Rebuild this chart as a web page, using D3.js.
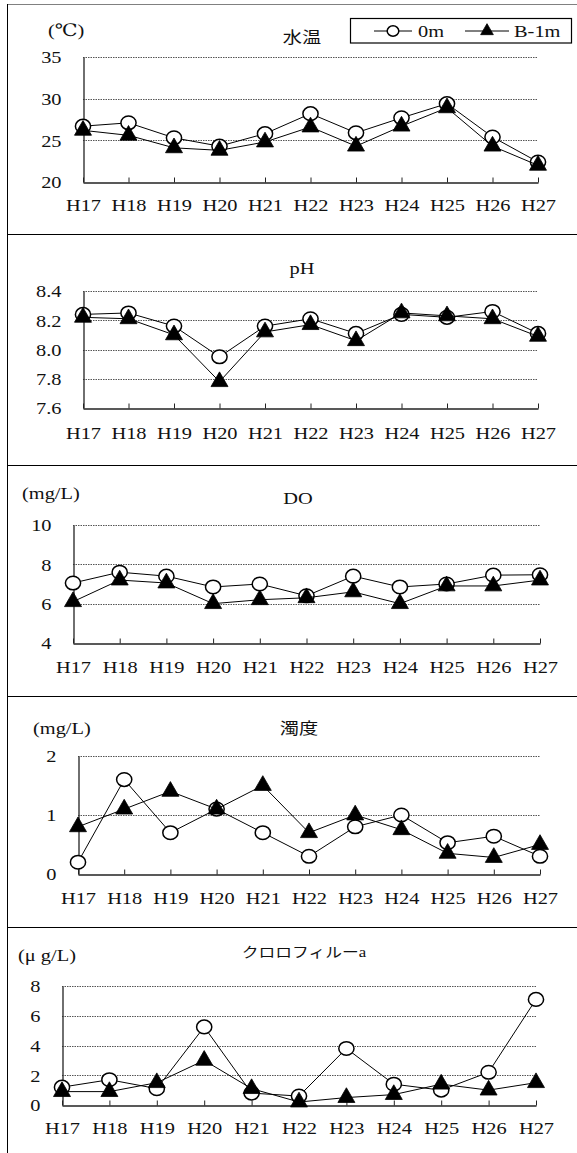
<!DOCTYPE html>
<html><head><meta charset="utf-8">
<script src="https://cdn.jsdelivr.net/npm/d3@7"></script>
<style>
html,body{margin:0;padding:0;background:#fff;}
svg{display:block;font-family:"Liberation Serif","Times New Roman","DejaVu Serif","Noto Sans CJK JP",serif;font-weight:normal;}
</style></head>
<body>
<svg id="chart" width="577" height="1153"></svg>
<script>
// ---- data ----
const years = ["H17","H18","H19","H20","H21","H22","H23","H24","H25","H26","H27"];
const seriesNames = ["0m","B-1m"];

const tempTicks = [20,25,30,35];
const temp0m  = [26.7,27.1,25.3,24.3,25.8,28.2,25.9,27.7,29.4,25.4,22.4];
const tempB1m = [26.2,25.6,24.1,23.8,24.8,26.6,24.3,26.7,28.9,24.3,22.0];

const phTicks = [7.6,7.8,8.0,8.2,8.4];
const ph0m  = [8.24,8.25,8.16,7.95,8.16,8.21,8.11,8.24,8.22,8.26,8.11];
const phB1m = [8.22,8.21,8.10,7.78,8.12,8.17,8.06,8.25,8.23,8.21,8.09];

const doTicks = [4,6,8,10];
const do0m  = [7.05,7.6,7.4,6.85,7.0,6.4,7.4,6.85,7.0,7.45,7.47];
const doB1m = [6.1,7.2,7.05,6.0,6.2,6.3,6.6,6.0,6.9,6.9,7.2];

const turbTicks = [0,1,2];
const turb0m  = [0.2,1.6,0.7,1.1,0.7,0.3,0.8,1.0,0.53,0.64,0.3];
const turbB1m = [0.8,1.1,1.4,1.1,1.5,0.7,1.0,0.75,0.35,0.28,0.5];

const chlTicks = [0,2,4,6,8];
const chl0m  = [1.2,1.7,1.1,5.25,0.8,0.6,3.8,1.4,1.0,2.2,7.1];
const chlB1m = [0.9,0.9,1.5,3.0,1.1,0.2,0.5,0.7,1.4,1.0,1.5];

// ---- layout ----
const SX = 1.2;
const LATIN = '"Liberation Serif","Times New Roman","DejaVu Serif",serif';
const svg = d3.select("#chart");

const panels = [
  {title:"水温", unit:"(℃)", ticks:tempTicks, s0:temp0m, s1:tempB1m, fmt:d3.format("d"),
   top:57, bottom:182, left:83, right:538, tx:302, ty:37, ux:48, uy:30, ts:16, lab:16},
  {title:"pH", unit:null, ticks:phTicks, s0:ph0m, s1:phB1m, fmt:d3.format(".1f"),
   top:291, bottom:408, left:83, right:538, tx:302, ty:268, ts:17, lab:18},
  {title:"DO", unit:"(mg/L)", ticks:doTicks, s0:do0m, s1:doB1m, fmt:d3.format("d"),
   top:525, bottom:643, left:73, right:540, tx:298, ty:498, ux:22, uy:493, ts:17, lab:17},
  {title:"濁度", unit:"(mg/L)", ticks:turbTicks, s0:turb0m, s1:turbB1m, fmt:d3.format("d"),
   top:756, bottom:874, left:78, right:540, tx:299, ty:728, ux:33, uy:728, ts:16, lab:17},
  {title:"クロロフィルーa", unit:"(μ g/L)", ticks:chlTicks, s0:chl0m, s1:chlB1m, fmt:d3.format("d"),
   top:986, bottom:1105, left:62, right:536, tx:304, ty:952, ux:18, uy:955, ts:14, lab:16}
];
const dividers = [234, 465, 696, 927];

function addText(g, str, x, y, anchor, size){
  return g.append("text")
    .attr("transform", `translate(${x},${y}) scale(${SX},1)`)
    .attr("text-anchor", anchor)
    .attr("dy", "0.35em")
    .style("font-size", size + "px")
    .attr("fill", "#111")
    .text(str);
}

// frame
svg.append("line").attr("x1",7).attr("x2",577).attr("y1",4.5).attr("y2",4.5)
  .attr("stroke","#808080").attr("stroke-width",1.2);
svg.append("line").attr("x1",7.5).attr("x2",7.5).attr("y1",4).attr("y2",1153)
  .attr("stroke","#000").attr("stroke-width",1);
dividers.forEach(d => {
  svg.append("line").attr("x1",7).attr("x2",577).attr("y1",d+0.5).attr("y2",d+0.5)
    .attr("stroke","#000").attr("stroke-width",1.2);
});

function drawCircle(sel, rx, ry){
  sel.append("ellipse").attr("rx",rx).attr("ry",ry)
    .attr("fill","#fff").attr("stroke","#000").attr("stroke-width",1.5);
}
function drawTri(sel, size){
  sel.append("path").attr("d", d3.symbol().type(d3.symbolTriangle).size(size)())
    .attr("fill","#000").attr("stroke","#000").attr("stroke-width",0.8);
}

panels.forEach(p => {
  const g = svg.append("g");
  const x = d3.scalePoint().domain(years).range([p.left, p.right]).padding(0);
  const y = d3.scaleLinear().domain([p.ticks[0], p.ticks[p.ticks.length-1]]).range([p.bottom, p.top]);

  // gridlines
  g.append("g").selectAll("line").data(p.ticks.slice(1)).join("line")
    .attr("x1", p.left).attr("x2", p.right)
    .attr("y1", d => Math.round(y(d))+0.5).attr("y2", d => Math.round(y(d))+0.5)
    .attr("stroke","#555").attr("stroke-width",1).attr("stroke-dasharray","1.5,1");

  // y axis
  const ya = g.append("g").attr("transform", `translate(${p.left+0.5},0)`)
    .call(d3.axisLeft(y).tickValues(p.ticks).tickFormat(p.fmt).tickSize(0).tickPadding(0));
  ya.attr("font-family", null).attr("font-size", null);
  ya.select(".domain").attr("stroke","#222").attr("stroke-width",1.3);
  ya.selectAll("text")
    .attr("x", -22/SX).attr("transform", `scale(${SX},1)`)
    .attr("dy","0.35em")
    .style("font-size","17px").style("font-family",LATIN).attr("fill","#111");

  // x axis
  const xa = g.append("g").attr("transform", `translate(0,${Math.round(p.bottom)+0.5})`)
    .call(d3.axisBottom(x).tickSizeInner(-5).tickSizeOuter(0).tickPadding(p.lab));
  xa.attr("font-family", null).attr("font-size", null);
  xa.select(".domain").attr("stroke","#222").attr("stroke-width",1.3);
  xa.selectAll(".tick line").attr("stroke","#222");
  xa.selectAll("text")
    .attr("transform", `scale(${SX},1)`)
    .attr("dy","0.71em")
    .style("font-size","17px").style("font-family",LATIN).attr("fill","#111");

  // title & unit
  addText(g, p.title, p.tx, p.ty, "middle", p.ts);
  if (p.unit) addText(g, p.unit, p.ux, p.uy, "start", 17);

  // series
  const line = d3.line().x((d,i) => x(years[i])).y(d => y(d));
  [p.s0, p.s1].forEach((s, k) => {
    g.append("path").datum(s).attr("d", line)
      .attr("fill","none").attr("stroke","#000").attr("stroke-width",1);
    const m = g.append("g").selectAll("g").data(s).join("g")
      .attr("transform", (d,i) => `translate(${x(years[i])},${y(d)})`);
    if (k === 0) drawCircle(m, 7.6, 6.8); else drawTri(m, 125);
  });
});

// legend
const lg = svg.append("g");
lg.append("rect").attr("x",350.5).attr("y",18.5).attr("width",221).attr("height",24.5)
  .attr("fill","#fff").attr("stroke","#000").attr("stroke-width",1.2);
const legendItems = [
  {name:seriesNames[0], x1:374, x2:412, tx:418},
  {name:seriesNames[1], x1:465, x2:509, tx:514}
];
legendItems.forEach((it, k) => {
  const cy = 31;
  lg.append("line").attr("x1",it.x1).attr("x2",it.x2).attr("y1",cy).attr("y2",cy)
    .attr("stroke","#000").attr("stroke-width",1);
  const m = lg.append("g").attr("transform", `translate(${(it.x1+it.x2)/2},${cy})`);
  if (k === 0) drawCircle(m, 5.8, 5.2); else drawTri(m, 70);
  addText(lg, it.name, it.tx, cy, "start", 17);
});
</script>
</body></html>
